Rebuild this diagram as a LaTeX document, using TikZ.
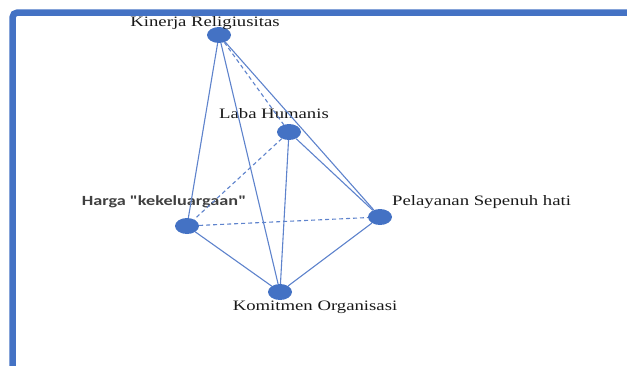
\documentclass[tikz,border=0pt]{standalone}
\usepackage{fontspec}
\usetikzlibrary{shapes.geometric}
\setmainfont{Liberation Serif}
\newfontfamily\widserif[FakeStretch=1.3]{Liberation Serif}
\newfontfamily\widsans[FakeStretch=1.3]{Carlito}
\definecolor{nodeblue}{HTML}{4472C4}
\definecolor{edgeblue}{HTML}{5E83CC}
\begin{document}
\begin{tikzpicture}[x=1pt,y=-1pt,
  vertex/.style={ellipse,fill=nodeblue,minimum width=24pt,minimum height=16pt,inner sep=0pt},
  edge/.style={draw=edgeblue,line width=1.1pt},
  dedge/.style={edge,dash pattern=on 4pt off 3pt},
  lbl/.style={font=\widserif\fontsize{14.4}{14}\selectfont,text=black!90,inner sep=0pt},
  lbls/.style={font=\widsans\fontsize{14}{14}\selectfont\bfseries,text=black!75,inner sep=0pt}]
\useasboundingbox (0,0) rectangle (627,365);
\begin{scope}
\clip (0,0) rectangle (627,365);
\draw[nodeblue,line width=6.5pt,rounded corners=5pt] (12.5,12.5) rectangle (720,460);
\end{scope}
\node[vertex] (kr) at (219,35) {};
\node[vertex] (lh) at (289,132) {};
\node[vertex] (hk) at (187,226) {};
\node[vertex] (ps) at (380,217) {};
\node[vertex] (ko) at (280,292) {};
\node[lbl] (krl) at (205,23) {Kinerja Religiusitas};
\node[lbl] (lhl) at (274,114) {Laba Humanis};
\node[lbls] (hkl) at (164,202) {Harga "kekeluargaan"};
\node[lbl,anchor=west] (psl) at (392,202) {Pelayanan Sepenuh hati};
\node[lbl] (kol) at (315,307) {Komitmen Organisasi};
\draw[edge] (kr) -- (hk);
\draw[edge] (kr) -- (ko);
\draw[dedge] (kr) -- (lh);
\draw[edge] (kr) -- (ps);
\draw[dedge] (lh) -- (hk);
\draw[edge] (lh) -- (ko);
\draw[edge] (lh) -- (ps);
\draw[dedge] (hk) -- (ps);
\draw[edge] (hk) -- (ko);
\draw[edge] (ps) -- (ko);
\end{tikzpicture}
\end{document}
